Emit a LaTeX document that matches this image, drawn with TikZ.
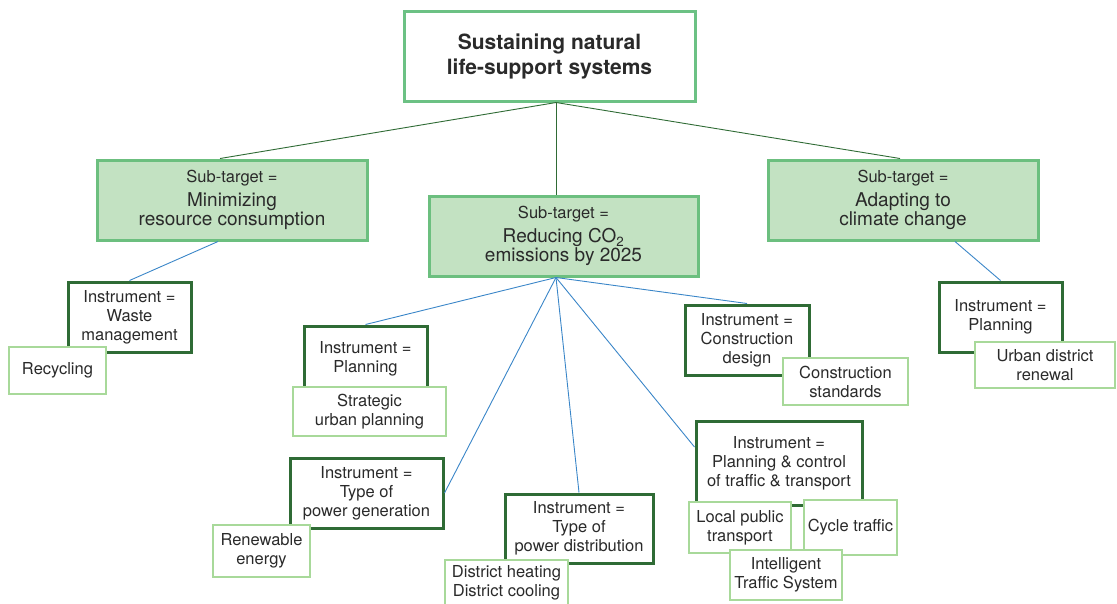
\documentclass[tikz,border=0pt]{standalone}
\usepackage{fontspec}
\setmainfont{TeX Gyre Heros}
\usetikzlibrary{calc}
\definecolor{txt}{HTML}{2A2A2A}
\definecolor{titleb}{HTML}{6CC184}
\definecolor{subfill}{HTML}{C3E2C2}
\definecolor{subb}{HTML}{6CBF7F}
\definecolor{instb}{HTML}{2F6B35}
\definecolor{leafb}{HTML}{A8D99A}
\definecolor{bluel}{HTML}{3A86C8}
\tikzset{
  box/.style={rectangle, inner sep=0pt, align=center, text=txt, font=\fontsize{16.5}{19}\selectfont},
  titlebox/.style={box, draw=titleb, line width=3pt, fill=white, font=\fontsize{21}{25}\selectfont\bfseries},
  subbox/.style={box, draw=subb, line width=3pt, fill=subfill},
  instbox/.style={box, draw=instb, line width=3pt, fill=white},
  leafbox/.style={box, draw=leafb, line width=2.6pt, fill=white},
  topline/.style={draw=instb, line width=0.9pt},
  blueline/.style={draw=bluel, line width=0.9pt},
}
\begin{document}
\begin{tikzpicture}[x=1pt,y=-1pt]
\useasboundingbox (0,0) rectangle (1117,603);
\node[titlebox, minimum width=291pt, minimum height=90pt] (title) at (549.5,56) {\raisebox{3pt}{Sustaining natural}\\\raisebox{3pt}{life-support systems}};
\coordinate (tj) at ($(title.south)+(6.5,0)$);
\node[subbox, minimum width=270pt, minimum height=80pt] (s1) at (232,200) {\raisebox{-2pt}{Sub-target =}\\[5pt]{\fontsize{19}{22}\selectfont Minimizing}\\[0pt]{\fontsize{19}{22}\selectfont resource consumption}};
\node[subbox, minimum width=269pt, minimum height=80pt] (s2) at (563.5,236) {Sub-target =\\[5pt]{\fontsize{19}{22}\selectfont Reducing CO\textsubscript{2}}\\[0pt]{\fontsize{19}{22}\selectfont emissions by 2025}};
\node[subbox, minimum width=270pt, minimum height=80pt] (s3) at (903,200) {\raisebox{-2pt}{Sub-target =}\\[5pt]{\fontsize{19}{22}\selectfont Adapting to}\\[0pt]{\fontsize{19}{22}\selectfont climate change}};
\coordinate (s1t) at ($(s1.north)+(-12,0)$);
\coordinate (s1b) at ($(s1.south)+(-14,0)$);
\coordinate (s2t) at ($(s2.north)+(-7.5,0)$);
\coordinate (s2b) at ($(s2.south)+(-7.5,0)$);
\coordinate (s3t) at ($(s3.north)+(-3,0)$);
\coordinate (s3b) at ($(s3.south)+(52,0)$);
% top connectors
\draw[topline] (tj) -- (s1t);
\draw[topline] (tj) -- (s2t);
\draw[topline] (tj) -- (s3t);
% instrument boxes
\node[instbox, minimum width=123pt, minimum height=70pt] (waste) at (129.5,317) {Instrument =\\Waste\\management};
\node[instbox, minimum width=123pt, minimum height=66pt] (plc) at (365.5,359) {Instrument =\\Planning};
\node[instbox, minimum width=124pt, minimum height=70pt] (cd) at (747,340) {Instrument =\\Construction\\design};
\node[instbox, minimum width=123pt, minimum height=70pt] (pr) at (1000.5,317) {Instrument =\\Planning};
\node[instbox, minimum width=153pt, minimum height=70pt] (pg) at (366.5,493) {Instrument =\\Type of\\power generation};
\node[instbox, minimum width=148pt, minimum height=69pt] (pd) at (579,528.5) {Instrument =\\Type of\\power distribution};
\node[instbox, minimum width=166pt, minimum height=84pt] (tr) at (779,463) {Instrument =\\Planning \& control\\of traffic \& transport};
% blue connectors
\draw[blueline] (s1b) -- (waste.north);
\draw[blueline] (s3b) -- (pr.north);
\draw[blueline] (s2b) -- (plc.north);
\draw[blueline] (s2b) -- (cd.north);
\draw[blueline] (s2b) -- (pg.east);
\draw[blueline] (s2b) -- ($(tr.west)+(0,-16)$);
\draw[blueline] (s2b) -- (pd.north);
% leaf boxes
\node[leafbox, minimum width=97pt, minimum height=47pt] (rec) at (57.5,370.5) {Recycling};
\node[leafbox, minimum width=153pt, minimum height=49pt] (strat) at (369.5,411.5) {Strategic\\urban planning};
\node[leafbox, minimum width=125pt, minimum height=47pt] (cs) at (845.5,381.5) {Construction\\standards};
\node[leafbox, minimum width=140pt, minimum height=46pt] (udr) at (1045,365) {Urban district\\renewal};
\node[leafbox, minimum width=97pt, minimum height=52pt] (ren) at (261.5,551) {Renewable\\energy};
\node[leafbox, minimum width=123pt, minimum height=46pt] (dh) at (506.5,583) {District heating\\District cooling};
\node[leafbox, minimum width=102pt, minimum height=51pt] (lpt) at (740,527.5) {Local public\\transport};
\node[leafbox, minimum width=93pt, minimum height=55pt] (cyc) at (850.5,527.5) {Cycle traffic};
\node[leafbox, minimum width=112pt, minimum height=50pt] (its) at (786,575) {Intelligent\\Traffic System};
\end{tikzpicture}
\end{document}
